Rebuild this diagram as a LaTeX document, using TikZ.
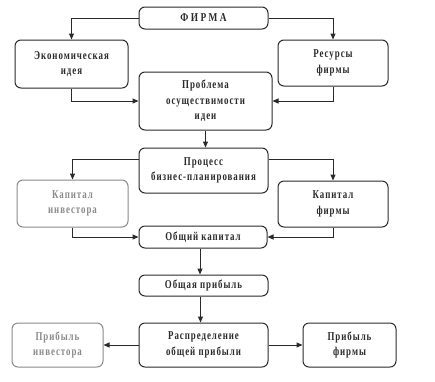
\documentclass[tikz,border=0pt]{standalone}
\usepackage{fontspec}
\setmainfont{Liberation Serif}[FakeStretch=0.74,LetterSpace=8]
\newfontfamily\widefont{Liberation Serif}[FakeStretch=0.78,LetterSpace=20]
\usetikzlibrary{arrows.meta}
\definecolor{ink}{HTML}{2A2A2A}
\definecolor{pale}{HTML}{8A8A8A}
\tikzset{
  box/.style={draw=ink, line width=1pt, rounded corners=6pt, text=ink,
    align=center, inner sep=0pt, font=\bfseries\fontsize{12}{15.5}\selectfont},
  palebox/.style={box, draw=pale, text=pale},
  arr/.style={draw=ink, line width=1pt, -{Triangle[length=6pt,width=5pt]}},
}
\begin{document}
\begin{tikzpicture}[x=1pt,y=-1pt]
\useasboundingbox[fill=white] (0,0) rectangle (435,381);
\node[box, minimum width=129, minimum height=22] (firma) at (203.5,18) {\widefont\bfseries ФИРМА};
\node[box, minimum width=113, minimum height=48] (econ) at (71.5,64) {Экономическая\\идея};
\node[box, minimum width=110, minimum height=46] (res) at (333,63) {Ресурсы\\фирмы};
\node[box, minimum width=133, minimum height=58] (prob) at (205.5,101) {Проблема\\осуществимости\\идеи};
\node[box, minimum width=129, minimum height=45] (proc) at (203.5,170.5) {Процесс\\бизнес-планирования};
\node[palebox, minimum width=111, minimum height=47] (kinv) at (72.5,203.5) {Капитал\\инвестора};
\node[box, minimum width=110, minimum height=46] (kfirm) at (333,204) {Капитал\\фирмы};
\node[box, minimum width=128, minimum height=22] (obk) at (203,237) {Общий капитал};
\node[box, minimum width=129, minimum height=21] (obp) at (203.5,285.5) {Общая прибыль};
\node[box, minimum width=129, minimum height=44] (rasp) at (203.5,345) {Распределение\\общей прибыли};
\node[palebox, minimum width=91, minimum height=44] (pinv) at (57.5,345) {Прибыль\\инвестора};
\node[box, minimum width=93, minimum height=44] (pfirm) at (349.5,345) {Прибыль\\фирмы};

\draw[arr] (firma.west) -| (econ.north);
\draw[arr] (firma.east) -| (res.north);
\draw[arr] (econ.south) |- (prob.west);
\draw[arr] (res.south) |- (prob.east);
\draw[arr] (prob.south) -- (prob.south |- proc.north);
\draw[arr] ([yshift=11.5pt]proc.west) -| (kinv.north);
\draw[arr] ([yshift=11.5pt]proc.east) -| (kfirm.north);
\draw[arr] (kinv.south) |- (obk.west);
\draw[arr] (kfirm.south) |- (obk.east);
\draw[arr] ([xshift=-3pt]obk.south) -- ([xshift=-3pt]obk.south |- obp.north);
\draw[arr] ([xshift=-3pt]obp.south) -- ([xshift=-3pt]obp.south |- rasp.north);
\draw[arr] (rasp.west) -- (pinv.east);
\draw[arr] (rasp.east) -- (pfirm.west);
\end{tikzpicture}
\end{document}
